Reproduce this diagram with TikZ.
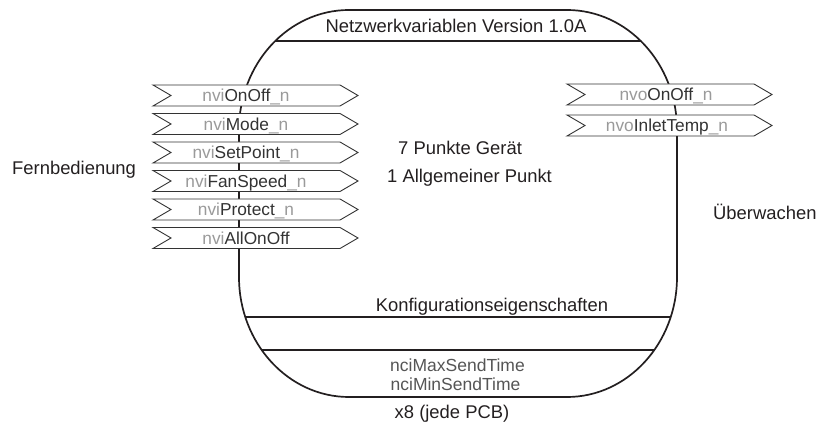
\documentclass[tikz,border=0pt]{standalone}
\usepackage{fontspec}
\setmainfont{Liberation Sans}
\definecolor{ink}{HTML}{231F20}
\definecolor{dark}{HTML}{333333}
\definecolor{lite}{HTML}{9A9A9A}
\definecolor{mid}{HTML}{555555}
\tikzset{
  outline/.style={line width=1.7pt, draw=ink},
  divider/.style={line width=1.7pt, draw=ink},
  sigline/.style={line width=0.9pt, draw=dark, fill=white, line join=miter},
  bigtxt/.style={inner sep=0pt, text=ink, font=\fontsize{18.4}{22}\selectfont},
  boxtxt/.style={inner sep=0pt, anchor=base, font=\fontsize{17.3}{20}\selectfont},
  ncitxt/.style={inner sep=0pt, anchor=base, text=mid, font=\fontsize{17.5}{21}\selectfont},
}
% #1 name, #2 left x, #3 centre y, #4 text centre x, #5 grey prefix, #6 dark part, #7 grey suffix
\newcommand\sigbox[7]{%
  \filldraw[sigline] (#2,#3-10.5) -- (#2+187,#3-10.5) -- (#2+205,#3) -- (#2+187,#3+10.5)
     -- (#2,#3+10.5) -- (#2+18,#3) -- cycle;
  \node[boxtxt] (#1) at (#4,#3+6.5) {\textcolor{lite}{#5}\textcolor{dark}{#6}\textcolor{lite}{#7}};
}
\begin{document}
\begin{tikzpicture}[x=1pt,y=-1pt]
\useasboundingbox (0,0) rectangle (819,427);
\def\shape{(349,10) -- (567,10) .. controls (627.75,10) and (677,63.7) .. (677,130)
  -- (677,277) .. controls (677,343.3) and (627.75,397) .. (567,397)
  -- (349,397) .. controls (288.25,397) and (239,343.3) .. (239,277)
  -- (239,130) .. controls (239,63.7) and (288.25,10) .. (349,10) -- cycle}
\begin{scope}
  \clip \shape;
  \draw[divider] (200,41) -- (720,41);
  \draw[divider] (200,317) -- (720,317);
  \draw[divider] (200,350) -- (720,350);
\end{scope}
\draw[outline] \shape;

\sigbox{i1}{153}{95.5}{246}{nvi}{OnOff}{\_n}
\sigbox{i2}{153}{124}{246}{nvi}{Mode}{\_n}
\sigbox{i3}{153}{152.5}{246}{nvi}{SetPoint}{\_n}
\sigbox{i4}{153}{181}{246}{nvi}{FanSpeed}{\_n}
\sigbox{i5}{153}{209.5}{246}{nvi}{Protect}{\_n}
\sigbox{i6}{153}{238}{246}{nvi}{AllOnOff}{}
\sigbox{o1}{567}{94.5}{666}{nvo}{OnOff}{\_n}
\sigbox{o2}{567}{125.5}{667}{nvo}{InletTemp}{\_n}

\node[bigtxt, anchor=base] (title) at (456,33) {Netzwerkvariablen Version 1.0A};
\node[bigtxt, anchor=base west] (p7) at (398,155) {7 Punkte Gerät};
\node[bigtxt, anchor=base west] (p1) at (387,183) {1 Allgemeiner Punkt};
\node[bigtxt, anchor=base west] (fern) at (12,175) {Fernbedienung};
\node[bigtxt, anchor=base west] (ueber) at (713,220) {Überwachen};
\node[bigtxt, anchor=base] (konf) at (492,312) {Konfigurationseigenschaften};
\node[ncitxt] (nmax) at (457.5,371) {nciMaxSendTime};
\node[ncitxt] (nmin) at (455.5,390) {nciMinSendTime};
\node[bigtxt, anchor=base] (pcb) at (452,418) {x8 (jede PCB)};
\end{tikzpicture}
\end{document}
